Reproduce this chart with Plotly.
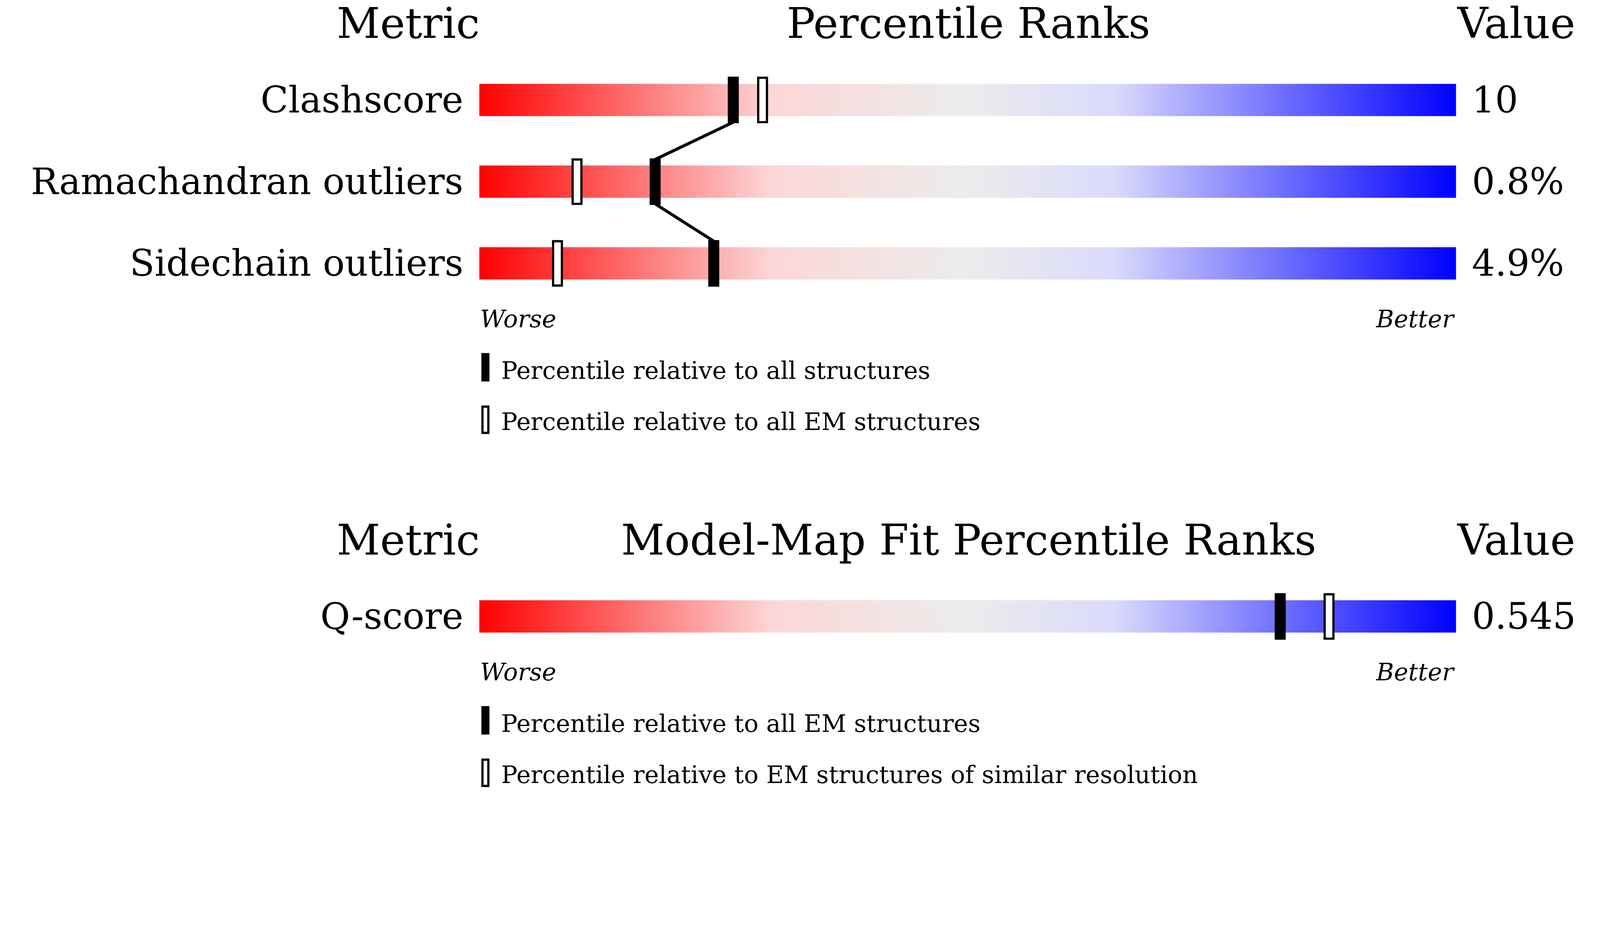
import plotly.graph_objects as go

# data
metrics = ["Clashscore", "Ramachandran outliers", "Sidechain outliers"]
values = ["10", "0.8%", "4.9%"]
pct_all = [26, 18, 24]
pct_em = [29, 10, 8]

fit_metrics = ["Q-score"]
fit_values = ["0.545"]
fit_pct_all_em = [82]
fit_pct_similar = [87]

W, HH = 4050, 2010  # page seems to be shown at 1.2x, so size in css px
S = W / 1568  # reference drawn at 1568 px wide
H = HH / S
BAR_L, BAR_R = 472, 1440


def px(xd):
    return (xd - BAR_L) / (BAR_R - BAR_L) * 100


scale = [[0, "rgb(255,0,0)"], [0.3, "rgb(252,215,215)"], [0.5, "rgb(236,236,236)"],
         [0.65, "rgb(218,218,252)"], [1, "rgb(0,0,255)"]]

fig = go.Figure()
shapes = []
ann = []
FONT = "DejaVu Serif"


def txt(x, y, s, size, anchor, italic=False):
    ann.append(dict(x=x, y=y, xref="x", yref="y", text=f"<i>{s}</i>" if italic else s,
                    showarrow=False, xanchor=anchor, yanchor="middle",
                    font=dict(family=FONT, size=size * S, color="black")))


def rect(xc, yc, w, h, filled):
    shapes.append(dict(type="rect", xref="x", yref="y", x0=xc - w / 2, x1=xc + w / 2,
                       y0=yc - h / 2, y1=yc + h / 2, fillcolor="black" if filled else "white",
                       line=dict(color="black", width=2.2 * S)))


def panel(top, title, names, vals, p1, p2, leg1, leg2):
    txt(px(473), top + 20, "Metric", 42, "right")
    txt(px(957), top + 20, title, 42, "center")
    txt(px(1440), top + 20, "Value", 42, "left")
    centers = []
    for i, (n, v) in enumerate(zip(names, vals)):
        yc = top + 96 + 81 * i
        centers.append(yc)
        fig.add_trace(go.Scatter(x=[0, 100, 100, 0, 0], y=[yc - 16, yc - 16, yc + 16, yc + 16, yc - 16],
                                 mode="lines", line=dict(width=0), fill="toself",
                                 fillgradient=dict(type="horizontal", colorscale=scale),
                                 showlegend=False, hoverinfo="skip"))
        txt(px(457), yc, n, 36, "right")
        txt(px(1455), yc, v, 36, "left")
    for i, yc in enumerate(centers):
        if i + 1 < len(centers):
            fig.add_trace(go.Scatter(x=[p1[i], p1[i + 1]], y=[yc + 22, centers[i + 1] - 22], mode="lines",
                                     line=dict(color="black", width=3 * S), showlegend=False, hoverinfo="skip"))
    for i, yc in enumerate(centers):
        rect(p2[i], yc, 0.9, 44, False)
        rect(p1[i], yc, 0.9, 44, True)
    yb = centers[-1] + 55
    txt(0, yb, "Worse", 24, "left", True)
    txt(100, yb, "Better", 24, "right", True)
    rect(px(478), yb + 48, 0.6, 26, True)
    rect(px(478), yb + 100, 0.6, 26, False)
    txt(px(493), yb + 51, leg1, 24, "left")
    txt(px(493), yb + 102, leg2, 24, "left")


panel(0, "Percentile Ranks", metrics, values, pct_all, pct_em,
      "Percentile relative to all structures", "Percentile relative to all EM structures")
panel(512, "Model-Map Fit Percentile Ranks", fit_metrics, fit_values, fit_pct_all_em, fit_pct_similar,
      "Percentile relative to all EM structures", "Percentile relative to EM structures of similar resolution")

fig.update_layout(width=W, height=HH, margin=dict(l=0, r=0, t=0, b=0),
                  plot_bgcolor="white", paper_bgcolor="white", shapes=shapes, annotations=ann,
                  xaxis=dict(range=[px(0), px(1568)], visible=False, fixedrange=True),
                  yaxis=dict(range=[H, 0], visible=False, fixedrange=True))
fig.write_html("out.html")
